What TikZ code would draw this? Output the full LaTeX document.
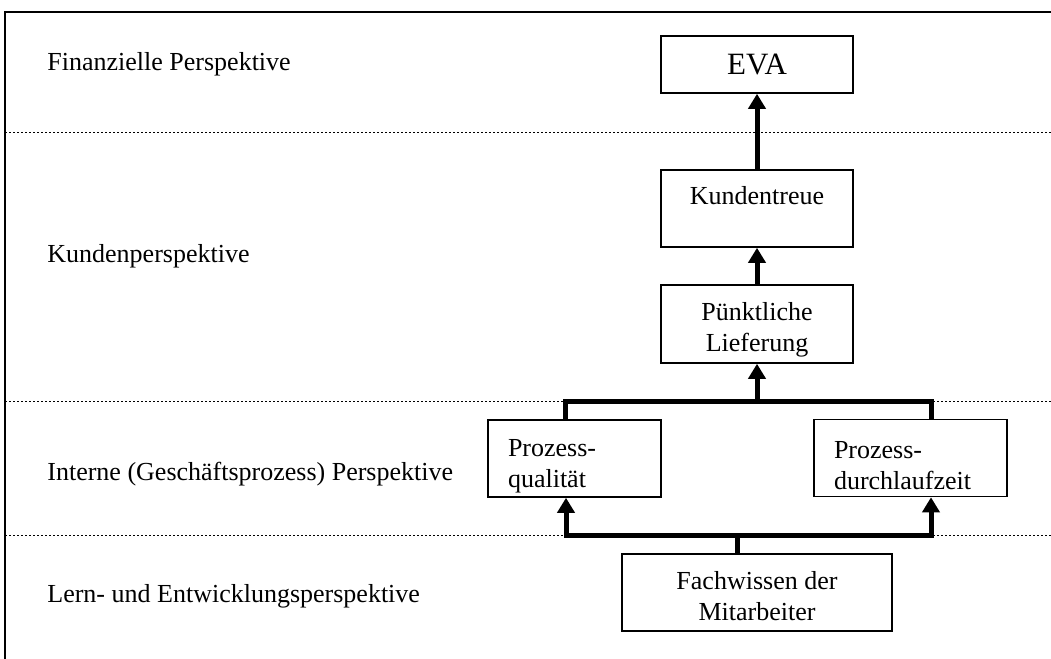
\documentclass[tikz,border=0pt]{standalone}
\usepackage{fontspec}
\setmainfont{Liberation Serif}
\usetikzlibrary{arrows.meta}

\begin{document}
\begin{tikzpicture}
[x=0.5pt,y=-0.5pt,>={Triangle[width=8.5pt,length=7.5pt]},
  every node/.style={font=\fontsize{13}{15.5}\selectfont},
  ebene node/.style={anchor=base west,inner sep=0pt},
  ziel node/.style={draw,line width=0.8pt,inner sep=0pt,minimum width=96pt,minimum height=38.5pt,align=center},
  prozess node/.style={ziel node,align=left,inner xsep=10pt},
  pfeil/.style={line width=2.5pt},
  trenner/.style={line width=0.5pt,dash pattern=on 1pt off 1pt}]

  \useasboundingbox (0,0) rectangle (1051,659);

  % Rahmen und Trennlinien
  \draw[line width=1pt] (5,659) -- (5,12) -- (1051,12);
  \foreach \y in {132,401,535}
    \draw[trenner] (5,\y) -- (1051,\y);

  % Perspektiven
  \node [ebene node] (fin) at 		(47,70) 	{Finanzielle Perspektive};
  \node [ebene node] (kunde) at 	(47,262) 	{Kundenperspektive};
  \node [ebene node] (intern) at 	(47,480) 	{Interne (Geschäftsprozess) Perspektive};
  \node [ebene node] (lern) at 		(47,602) 	{Lern- und Entwicklungsperspektive};

  % Ziele
  \node [ziel node,minimum height=28.5pt,font=\fontsize{15.5}{18}\selectfont] (eva) at (757,64.5) {EVA};
  \node [ziel node] (treue) at 		(757,208.5) 	{\rule[-13pt]{0pt}{13pt}Kundentreue};
  \node [ziel node,minimum height=39pt] (liefer) at (757,324) {\rule{0pt}{15pt}Pünktliche\\Lieferung};
  \node [prozess node,minimum width=86.5pt,text width=66.5pt] (qual) at (574.5,458.5) {\rule{0pt}{16pt}Prozess-\\qualität};
  \node [prozess node,minimum width=96.5pt,text width=76.5pt] (durch) at (910.5,458) {\rule{0pt}{16pt}Prozess-\\durchlaufzeit};
  \node [ziel node,minimum width=135pt] (wissen) at (757,592.5) {\rule{0pt}{13pt}Fachwissen der\\Mitarbeiter};

  \coordinate (qa) at (565,401);
  \coordinate (qm) at (757,401);
  \coordinate (qb) at (931,401);
  \coordinate (la) at (566,535);
  \coordinate (lm) at (737,535);
  \coordinate (lb) at (931,535);

  \foreach \from/\to in {treue/eva,liefer/treue,qm/liefer}
    \draw[pfeil,->] (\from) -- (\to);

  \draw[pfeil] (qual.north -| qa) -- (qa) -- (qb) -- (durch.north -| qb);
  \draw[pfeil] (wissen.north -| lm) -- (lm);
  \draw[pfeil,<->] (qual.south -| la) -- (la) -- (lb) -- (durch.south -| lb);

\end{tikzpicture}
\end{document}
